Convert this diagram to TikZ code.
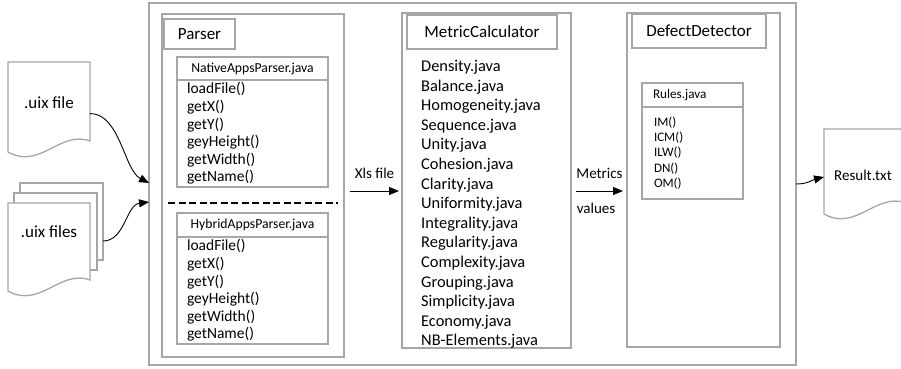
\documentclass[tikz,border=0pt]{standalone}
\usepackage{fontspec}
\setmainfont{Carlito}
\usetikzlibrary{arrows.meta, positioning}

\newcommand{\docwave}[1]{%
  \draw[sheet] ([yshift=-11pt]#1.south west) -- (#1.north west) -- (#1.north east) -- (#1.south east)
    .. controls ([xshift=-30pt,yshift=11pt]#1.south east) and ([xshift=32pt,yshift=-29pt]#1.south west)
    .. ([yshift=-11pt]#1.south west) -- cycle;}

\begin{document}
\begin{tikzpicture}[x=1pt,y=-1pt,>={Triangle[length=10pt,width=8pt]},
        box/.style={draw=black!35,line width=1.3pt,anchor=north west,inner sep=0pt,outer sep=0pt},
        titlebox/.style={box,font=\fontsize{17}{20}\selectfont},
        headbox/.style={box,font=\fontsize{13.7}{16}\selectfont},
        bodybox/.style={box,align=left,inner xsep=10pt,text width=131pt,font=\fontsize{15.5}{17.6}\selectfont},
        sheet/.style={draw=black!35,line width=1.3pt,fill=white},
        sheetnode/.style={inner sep=0pt,outer sep=0pt},
        docfont/.style={font=\fontsize{17}{20}\selectfont,inner sep=0pt},
        flow/.style={->,black,line width=0.9pt},
        lbl/.style={font=\fontsize{15}{18}\selectfont,inner sep=0pt}]

    \useasboundingbox (0,0) rectangle (901,368);

    \node[box,line width=1.8pt,minimum width=647pt,minimum height=362pt] (tool) at (149,3) {};

    % parser
    \node[box,minimum width=182pt,minimum height=343pt] (parser) at (162,14) {};
    \node[titlebox,minimum width=71pt,minimum height=30pt] (parsertitle) at (164,19) {Parser};
    \node[headbox,minimum width=151pt,minimum height=23pt] (nativehead) at (177,57) {NativeAppsParser.java};
    \node[bodybox,minimum height=107pt] (nativebody) [below=0pt of nativehead]
        {loadFile()\\getX()\\getY()\\geyHeight()\\getWidth()\\getName()};
    \coordinate (sepline) at (0,203);
    \draw[line width=2pt,dash pattern=on 7pt off 3.5pt] ([xshift=6pt]parser.west |- sepline) -- ([xshift=-6pt]parser.east |- sepline);
    \node[headbox,minimum width=151pt,minimum height=24pt] (hybridhead) at (177,213) {HybridAppsParser.java};
    \node[bodybox,minimum height=107pt] (hybridbody) [below=0pt of hybridhead]
        {loadFile()\\getX()\\getY()\\geyHeight()\\getWidth()\\getName()};

    % metric calculator
    \node[box,minimum width=169pt,minimum height=335pt] (metric) at (402,13) {};
    \node[titlebox,minimum width=150pt,minimum height=34pt] (metrictitle) at (407,15) {MetricCalculator};
    \node[anchor=north west,inner sep=0pt,align=left,font=\fontsize{16.4}{19.6}\selectfont] (metriclist) at (421,60)
        {Density.java\\Balance.java\\Homogeneity.java\\Sequence.java\\Unity.java\\Cohesion.java\\Clarity.java\\
         Uniformity.java\\Integrality.java\\Regularity.java\\Complexity.java\\Grouping.java\\Simplicity.java\\
         Economy.java\\NB-Elements.java};

    % defect detector
    \node[box,minimum width=153pt,minimum height=334pt] (defect) at (627,13) {};
    \node[titlebox,minimum width=134pt,minimum height=34pt] (defecttitle) at (632,14) {DefectDetector};
    \node[headbox,align=left,inner xsep=11pt,text width=79pt,minimum height=24pt,font=\fontsize{13.2}{15}\selectfont] (ruleshead) at (642,83) {Rules.java};
    \node[bodybox,inner xsep=12pt,text width=77pt,minimum height=92pt,font=\fontsize{13}{15.3}\selectfont] (rulesbody) [below=0pt of ruleshead]
        {IM()\\ICM()\\ILW()\\DN()\\OM()};

    % documents
    \node[sheetnode,minimum width=82pt,minimum height=79pt] (uixfile) at (49,101.5) {};
    \docwave{uixfile}
    \node[docfont] (uixfiletext) at ([yshift=-1.5pt]uixfile.center) {.uix file};

    \node[box,fill=white,minimum width=83pt,minimum height=77pt] (uixback) at (20,183) {};
    \node[box,fill=white,minimum width=83pt,minimum height=77pt] (uixmid) at (14,193) {};
    \node[sheetnode,minimum width=82pt,minimum height=77pt] (uixfiles) at (49,241.5) {};
    \docwave{uixfiles}
    \node[docfont] (uixfilestext) at ([yshift=9.5pt]uixfiles.center) {.uix files};

    \node[sheetnode,minimum width=82pt,minimum height=74pt] (result) at (865,166) {};
    \docwave{result}
    \node[lbl] (resulttext) at ([xshift=-2pt,yshift=-9pt]result.center) {Result.txt};

    % connectors
    \coordinate (flowrow) at (0,191);
    \draw[flow] ([yshift=-12pt]uixfile.east) .. controls +(30,0) and +(-25,-13) .. ([yshift=1pt]tool.west);
    \draw[flow] ([yshift=-19.5pt]uixback.east) .. controls +(22,0) and +(-23,3) .. ([yshift=-18pt]tool.west);
    \draw[flow] ([xshift=6pt]parser.east |- flowrow) -- node[lbl,above=12pt] (xlslbl) {Xls file} ([xshift=-3pt]metric.west |- flowrow);
    \draw[flow] ([xshift=5pt]metric.east |- flowrow) -- node[lbl,above=12pt] (metricslbl) {Metrics}
        node[lbl,below=12pt,xshift=-3.5pt] (valueslbl) {values} ([xshift=-4pt]defect.west |- flowrow);
    \draw[flow] (tool.east) .. controls +(12,0) and +(-12,3) .. ([yshift=-11pt]result.west);
\end{tikzpicture}
\end{document}
